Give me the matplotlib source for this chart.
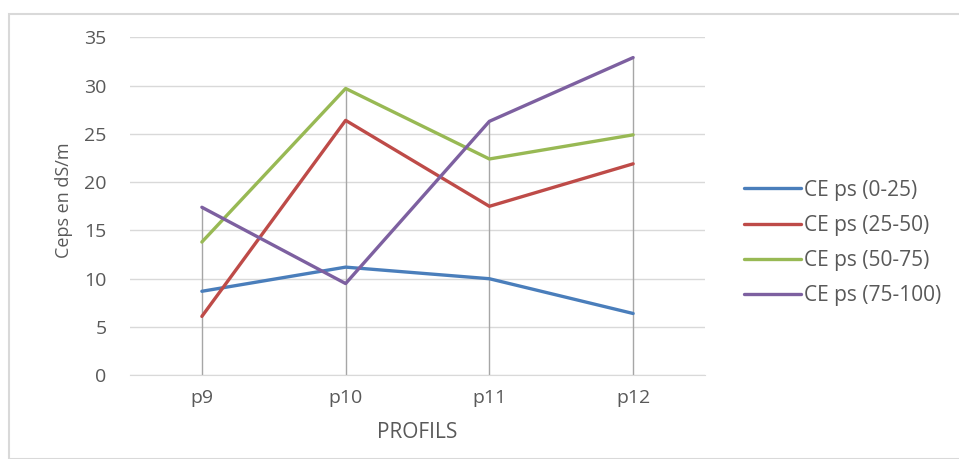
import matplotlib.pyplot as plt
from matplotlib.patches import Rectangle

profils = ["p9", "p10", "p11", "p12"]
ce_0_25 = [8.7, 11.2, 10.0, 6.4]
ce_25_50 = [6.1, 26.4, 17.5, 21.9]
ce_50_75 = [13.8, 29.7, 22.4, 24.9]
ce_75_100 = [17.4, 9.5, 26.3, 32.9]

series = [
    ("CE ps (0-25)", ce_0_25, "#4a7ebb"),
    ("CE ps (25-50)", ce_25_50, "#be4b48"),
    ("CE ps (50-75)", ce_50_75, "#98b954"),
    ("CE ps (75-100)", ce_75_100, "#7d60a0"),
]

plt.rcParams['font.family'] = ['Open Sans', 'DejaVu Sans']
txt = "#595959"

fig = plt.figure(figsize=(9.59, 4.59), dpi=100)
ax = fig.add_axes([130 / 959, 1 - 375.3 / 459, 575 / 959, 338 / 459])

# outer chart border
fig.patches.append(Rectangle((9 / 959, 0), 1, 1 - 14 / 459, transform=fig.transFigure,
                             fill=False, edgecolor="#d9d9d9", linewidth=1.5))

x = range(len(profils))

# drop lines from max value down to axis
tops = [max(vals) for vals in zip(ce_0_25, ce_25_50, ce_50_75, ce_75_100)]
ax.vlines(x, 0, tops, color="#a6a6a6", linewidth=1, zorder=2)

for label, vals, col in series:
    ax.plot(x, vals, color=col, linewidth=2.4, label=label, zorder=3,
            solid_capstyle="round")

ax.set_xlim(-0.5, 3.5)
ax.set_ylim(0, 35)
ax.set_yticks(range(0, 36, 5))
ax.set_xticks(list(x))
ax.set_xticklabels(profils)
ax.yaxis.grid(True, color="#d9d9d9", linewidth=1)
ax.set_axisbelow(True)
for s in ["top", "right", "left"]:
    ax.spines[s].set_visible(False)
ax.spines["bottom"].set_color("#d9d9d9")
ax.tick_params(axis="both", length=0, labelsize=14, colors=txt)
ax.tick_params(axis="x", pad=10)
ax.tick_params(axis="y", pad=17)

ax.set_ylabel("Ceps en dS/m", fontsize=13, color=txt, va="center")
ax.yaxis.set_label_coords(-0.115, 0.519)
ax.set_xlabel("PROFILS", fontsize=15, color=txt, va="center")
ax.xaxis.set_label_coords(0.5, -0.168)

fig.legend(loc="center left", bbox_to_anchor=(725 / 959, 1 - 243 / 459), frameon=False,
           fontsize=15, labelcolor=txt, handlelength=2.75, handletextpad=0.15,
           labelspacing=0.68)

fig.savefig("out.png", dpi=100)
